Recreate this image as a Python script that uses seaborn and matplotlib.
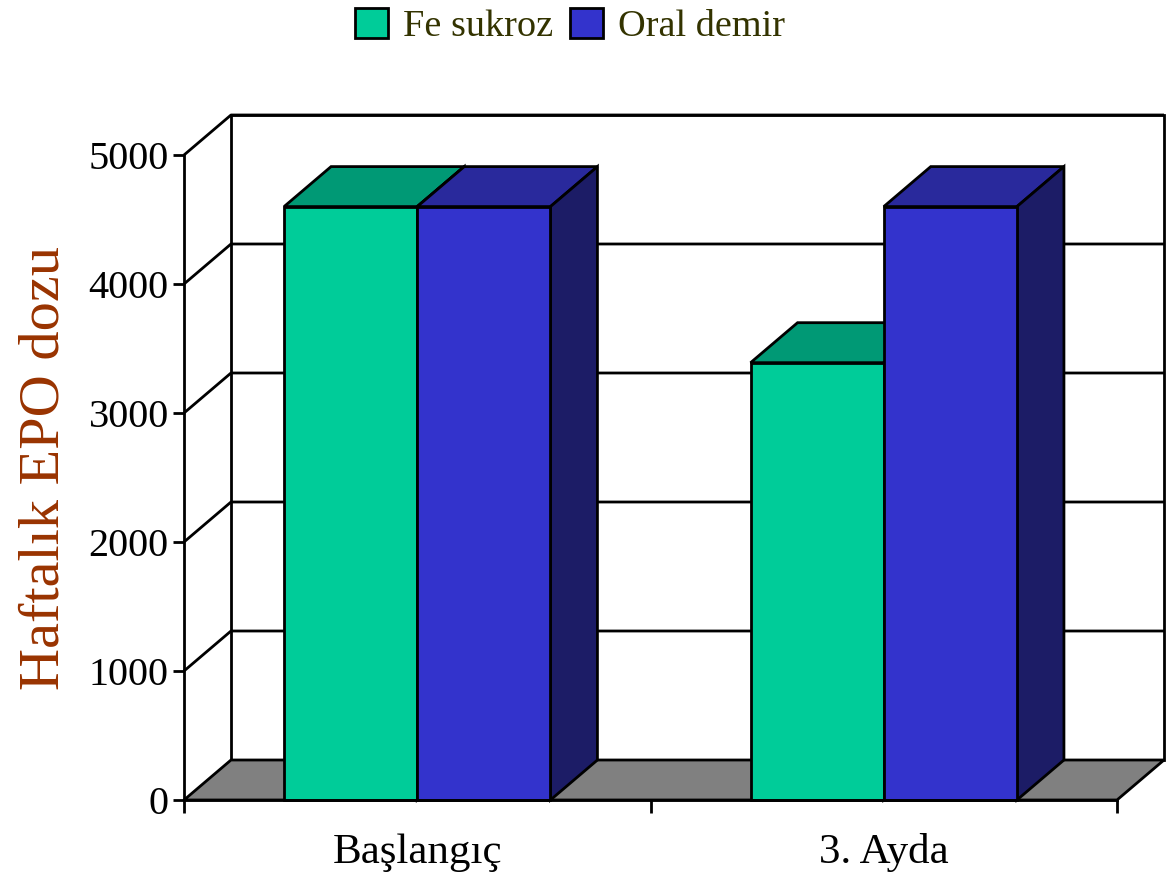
import numpy as np
import pandas as pd
import seaborn as sns
import matplotlib.pyplot as plt
from matplotlib.patches import Polygon, Patch
from matplotlib.transforms import IdentityTransform

# data
periods = ['Başlangıç', '3. Ayda']
groups = ['Fe sukroz', 'Oral demir']
fe_sukroz = [4600, 3390]
oral_demir = [4600, 4600]
yticks = [0, 1000, 2000, 3000, 4000, 5000]

front_colors = {'Fe sukroz': '#00CC99', 'Oral demir': '#3333CC'}
top_colors = {'Fe sukroz': '#009975', 'Oral demir': '#29299C'}
side_colors = {'Fe sukroz': '#006B52', 'Oral demir': '#1C1C66'}

df = pd.DataFrame({
    'period': periods * 2,
    'group': [groups[0]] * 2 + [groups[1]] * 2,
    'dose': fe_sukroz + oral_demir,
})

sns.set_style('white')
plt.rcParams['font.family'] = ['Liberation Serif', 'DejaVu Serif']

fig = plt.figure(figsize=(11.75, 8.85), dpi=100)
ax = fig.add_axes([184 / 1175, 85 / 885, 933 / 1175, 645 / 885])

sns.barplot(data=df, x='period', y='dose', hue='group', palette=front_colors,
            width=0.571, saturation=1, edgecolor='black', linewidth=2,
            errorbar=None, legend=False, ax=ax)
bars = sorted(ax.patches, key=lambda p: p.get_x())
ax.set_xlim(-0.5, 1.5)
ax.set_ylim(0, 5000)

# depth of the 3D box in pixels (right, up)
depth = np.array([47.0, 40.0])


def disp(x, v, d=0.0):
    return ax.transData.transform((x, v)) + d * depth


def poly(pts, **kw):
    p = Polygon(pts, closed=True, transform=IdentityTransform(), clip_on=False, **kw)
    ax.add_artist(p)
    return p


x0, x1 = ax.get_xlim()
# back wall
poly([disp(x0, 0, 1), disp(x1, 0, 1), disp(x1, yticks[-1], 1), disp(x0, yticks[-1], 1)],
     facecolor='white', edgecolor='black', linewidth=2, zorder=0.5)
# floor
poly([disp(x0, 0), disp(x1, 0), disp(x1, 0, 1), disp(x0, 0, 1)],
     facecolor='#808080', edgecolor='black', linewidth=2, zorder=0.6)
# gridlines on back wall and left side wall
for v in yticks[1:]:
    pts = np.array([disp(x0, v), disp(x0, v, 1), disp(x1, v, 1)])
    ax.plot(pts[:, 0], pts[:, 1], color='black', linewidth=2, transform=IdentityTransform(),
            clip_on=False, zorder=0.7, solid_capstyle='butt')

# 3D bars: top and side faces built from seaborn's bar patches
names = []
for gi in range(len(periods)):
    names += groups
for i, (bar, name) in enumerate(zip(bars, names)):
    bx0 = bar.get_x()
    bx1 = bx0 + bar.get_width()
    h = bar.get_height()
    z = 2 + i
    bar.set_zorder(z + 0.2)
    bar.set_clip_on(False)
    poly([disp(bx0, h), disp(bx1, h), disp(bx1, h, 1), disp(bx0, h, 1)],
         facecolor=top_colors[name], edgecolor='black', linewidth=2, zorder=z)
    poly([disp(bx1, 0), disp(bx1, h), disp(bx1, h, 1), disp(bx1, 0, 1)],
         facecolor=side_colors[name], edgecolor='black', linewidth=2, zorder=z)

# axes styling
for s in ['top', 'right']:
    ax.spines[s].set_visible(False)
for s in ['left', 'bottom']:
    ax.spines[s].set_linewidth(2)
    ax.spines[s].set_color('black')
    ax.spines[s].set_zorder(10)
ax.set_yticks(yticks)
ax.set_yticklabels([str(t) for t in yticks])
ax.tick_params(axis='y', direction='out', length=8, width=2, labelsize=29, pad=3, left=True,
               colors='black')
ax.set_xticks([0, 1])
ax.set_xticks([-0.5, 0.5, 1.5], minor=True)
ax.tick_params(axis='x', which='major', length=0, labelsize=31, pad=24, colors='black')
ax.tick_params(axis='x', which='minor', direction='out', length=9, width=2, bottom=True,
               colors='black')
ax.set_xlabel('')
ax.set_ylabel('Haftalık EPO dozu', fontsize=42, color='#993300', va='center')
ax.yaxis.set_label_coords(-0.15, 0.515)

handles = [Patch(facecolor=front_colors[g], edgecolor='black', linewidth=2) for g in groups]
leg = fig.legend(handles, groups, loc='upper center', bbox_to_anchor=(570 / 1175, 1.03),
                 ncol=2, frameon=False, fontsize=27.5, handlelength=0.85, handleheight=0.85,
                 handletextpad=0.4, columnspacing=0.45)
for t in leg.get_texts():
    t.set_color('#333300')

fig.savefig('out.png', dpi=100)
